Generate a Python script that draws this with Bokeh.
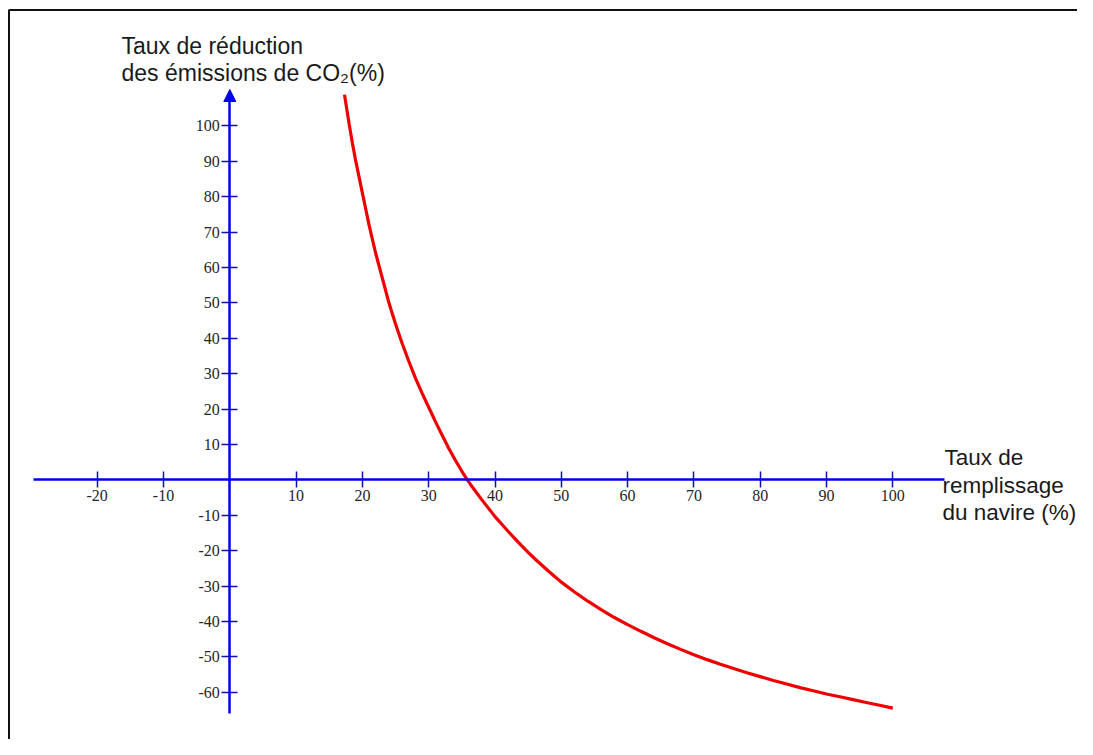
from bokeh.plotting import figure
from bokeh.models import (FixedTicker, Label, BoxAnnotation, Arrow, NormalHead, Range1d,
                          CustomJSTickFormatter)
from bokeh.embed import file_html
from bokeh.resources import INLINE

# ---- data ----
fill_rate = [17.3, 18, 18.5, 19, 19.5, 20, 20.5, 21, 21.5, 22, 22.5, 23, 23.5, 24,
             24.5, 25, 26, 27, 28, 29, 30, 31, 32, 33, 34, 35, 36, 37, 38, 39, 40,
             41, 42, 43, 44, 45, 46, 47, 48, 49, 50, 52, 54, 56, 58, 60, 62, 64,
             66, 68, 70, 72, 74, 76, 78, 80, 82, 84, 86, 88, 90, 92, 94, 96, 98, 100]
co2_reduction = [108.8, 100.5, 95, 90, 85.5, 81, 76.5, 72, 68, 64, 60.5, 57, 53.5, 50,
                 47, 44, 38.5, 33.5, 28.7, 24.5, 20.5, 16.5, 12.7, 9, 5.6, 2.4, -0.5,
                 -3.1, -5.6, -8, -10.4, -12.5, -14.6, -16.6, -18.6, -20.5, -22.3, -24,
                 -25.7, -27.3, -28.9, -31.7, -34.3, -36.7, -38.9, -40.9, -42.8, -44.6,
                 -46.3, -47.9, -49.4, -50.8, -52.1, -53.3, -54.5, -55.6, -56.7, -57.7,
                 -58.7, -59.6, -60.5, -61.3, -62.1, -62.9, -63.7, -64.5]
x_ticks = [-20, -10, 10, 20, 30, 40, 50, 60, 70, 80, 90, 100]
y_ticks = [-60, -50, -40, -30, -20, -10, 10, 20, 30, 40, 50, 60, 70, 80, 90, 100]
y_title = ["Taux de réduction", "des émissions de CO₂(%)"]
x_title = ["Taux de", "remplissage", "du navire (%)"]

# ---- layout (picture pixel geometry) ----
W, H = 1077, 739
PX0, PY0 = 0, 0            # figure position in the picture
X0PX, XS = 229.3, 6.63     # picture px of x=0, px per unit
Y0PX, YS = 479.3, 3.54     # picture px of y=0, px per unit

def dx(px):
    return (px - X0PX) / XS

def dy(py):
    return (Y0PX - py) / YS

x_start, x_end = dx(PX0), dx(PX0 + W)
y_start, y_end = dy(PY0 + H), dy(PY0)

BLUE = "#0000ee"
TICK = "#1010b0"

p = figure(width=W, height=H, x_range=Range1d(x_start, x_end),
           y_range=Range1d(y_start, y_end), output_backend="svg",
           toolbar_location=None, min_border=0, outline_line_color=None,
           background_fill_color="white", border_fill_color="white")
p.grid.visible = False

for ax, ticks, bounds in ((p.xaxis, x_ticks, (dx(33), dx(944))),
                          (p.yaxis, y_ticks, (dy(713), dy(100)))):
    ax.fixed_location = 0
    ax.bounds = bounds
    ax.ticker = FixedTicker(ticks=ticks)
    ax.formatter = CustomJSTickFormatter(code="return String(tick);")
    ax.axis_line_color = BLUE
    ax.axis_line_width = 2.5
    ax.major_tick_line_color = TICK
    ax.major_tick_line_width = 1.5
    ax.major_tick_in = 8
    ax.major_tick_out = 8
    ax.minor_tick_line_color = None
    ax.major_label_text_font = "Liberation Serif"
    ax.major_label_text_font_size = "16px"
    ax.major_label_text_color = "#262626"
    ax.major_label_standoff = 2

# arrow head on y axis
p.add_layout(Arrow(end=NormalHead(size=12, fill_color=BLUE, line_color=BLUE, line_width=1),
                   x_start=0, y_start=dy(100), x_end=0, y_end=dy(89),
                   line_color=BLUE, line_width=2.5))

# curve
p.line(fill_rate, co2_reduction, line_color="#ee0000", line_width=3.2)

# picture border (left and top only visible, picture is cropped right/bottom)
p.add_layout(BoxAnnotation(left=dx(8.5), top=dy(9.5), right=dx(1300), bottom=dy(1000),
                           fill_alpha=0, line_color="#111111", line_alpha=1.0,
                           line_width=2))

# titles
for txt, bx, by, fs in ((y_title[0], 121, 45, "23px"), (y_title[1], 121, 72, "23px"),
                        (x_title[0], 944, 457, "22.5px"), (x_title[1], 942, 485, "22.5px"),
                        (x_title[2], 942, 512, "22.5px")):
    p.add_layout(Label(x=dx(bx), y=dy(by), text=txt, text_font="Liberation Sans",
                       text_font_size=fs, text_color="#1a1a1a",
                       text_baseline="alphabetic", text_align="left"))

open("out.html", "w").write(file_html(p, INLINE))
